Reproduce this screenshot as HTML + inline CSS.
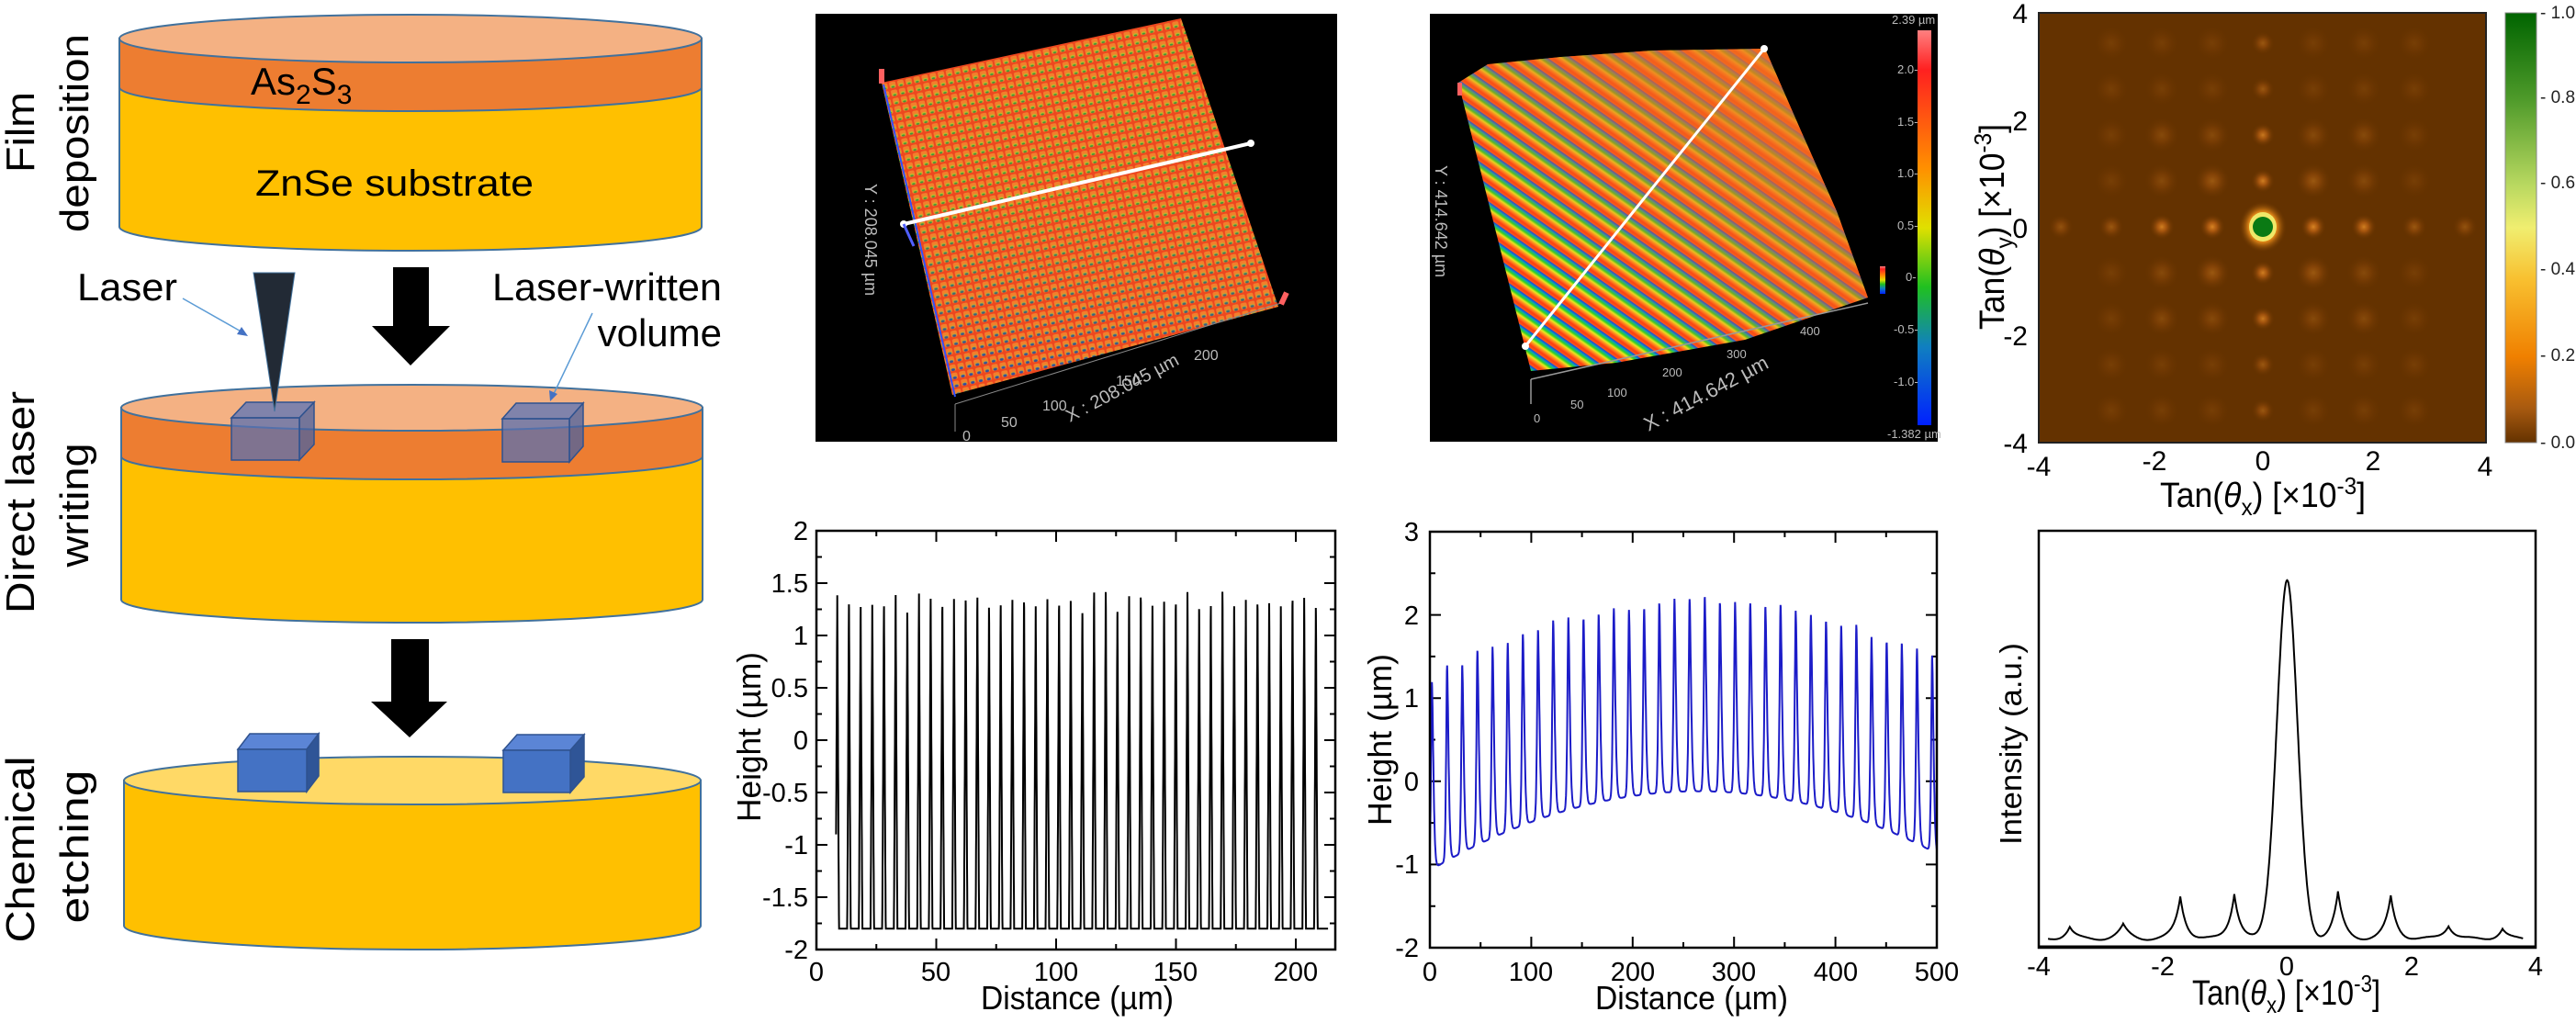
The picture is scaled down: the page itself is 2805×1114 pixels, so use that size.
<!DOCTYPE html>
<html><head><meta charset="utf-8"><style>
html,body{margin:0;padding:0;background:#fff;}
svg{display:block;font-family:"Liberation Sans",Arial,sans-serif;}
</style></head><body>
<svg id="s" width="2805" height="1114" viewBox="0 0 2805 1114" xmlns="http://www.w3.org/2000/svg">
<defs>
  <pattern id="dots" width="9" height="9" patternUnits="userSpaceOnUse" patternTransform="rotate(-12)">
    <rect width="9" height="9" fill="#f04a22"/>
    <rect x="1" y="1" width="7" height="7" rx="2" fill="#f58a30"/>
    <ellipse cx="4.5" cy="6" rx="2.6" ry="1.6" fill="#b8d030"/>
    <ellipse cx="4.5" cy="6.8" rx="1.8" ry="1" fill="#30a040"/>
  </pattern>
  <pattern id="bdots" width="9" height="9" patternUnits="userSpaceOnUse" patternTransform="rotate(-12)">
    <ellipse cx="4.5" cy="6.5" rx="2.2" ry="1.5" fill="#1030e0"/>
  </pattern>
  <linearGradient id="bmaskg" x1="0" y1="0" x2="0" y2="1">
    <stop offset="0.45" stop-color="#fff" stop-opacity="0"/>
    <stop offset="1" stop-color="#fff" stop-opacity="1"/>
  </linearGradient>
  <mask id="bmask"><rect x="880" y="0" width="580" height="490" fill="url(#bmaskg)"/></mask>
  <linearGradient id="stripeg" x1="0" y1="0" x2="0" y2="1">
    <stop offset="0" stop-color="#1838f0"/>
    <stop offset="0.18" stop-color="#10b0a0"/>
    <stop offset="0.3" stop-color="#30d020"/>
    <stop offset="0.45" stop-color="#e8e820"/>
    <stop offset="0.6" stop-color="#ff9020"/>
    <stop offset="0.8" stop-color="#ff3a10"/>
    <stop offset="1" stop-color="#f06020"/>
  </linearGradient>
  <pattern id="stripes" width="400" height="15" patternUnits="userSpaceOnUse" patternTransform="rotate(35)">
    <rect width="400" height="15" fill="url(#stripeg)"/>
  </pattern>
  <linearGradient id="ovg" x1="0" y1="1" x2="1" y2="0">
    <stop offset="0.25" stop-color="#f06a20" stop-opacity="0"/>
    <stop offset="0.7" stop-color="#f06a20" stop-opacity="0.7"/>
    <stop offset="1" stop-color="#f07a20" stop-opacity="0.85"/>
  </linearGradient>
  <linearGradient id="cb3d" x1="0" y1="0" x2="0" y2="1">
    <stop offset="0" stop-color="#ff8080"/>
    <stop offset="0.1" stop-color="#ff2020"/>
    <stop offset="0.35" stop-color="#ff9000"/>
    <stop offset="0.5" stop-color="#e0e000"/>
    <stop offset="0.65" stop-color="#20c020"/>
    <stop offset="0.8" stop-color="#1080c0"/>
    <stop offset="1" stop-color="#0020ff"/>
  </linearGradient>
  <linearGradient id="cbmap" x1="0" y1="0" x2="0" y2="1">
    <stop offset="0" stop-color="#006400"/>
    <stop offset="0.2" stop-color="#4e9a2a"/>
    <stop offset="0.4" stop-color="#b8d860"/>
    <stop offset="0.5" stop-color="#f0ee70"/>
    <stop offset="0.62" stop-color="#f8c030"/>
    <stop offset="0.8" stop-color="#f08000"/>
    <stop offset="0.92" stop-color="#a85a10"/>
    <stop offset="1" stop-color="#643200"/>
  </linearGradient>
  <radialGradient id="sp">
    <stop offset="0" stop-color="#ffa030" stop-opacity="1"/>
    <stop offset="0.35" stop-color="#d87018" stop-opacity="0.8"/>
    <stop offset="1" stop-color="#643200" stop-opacity="0"/>
  </radialGradient>
  <radialGradient id="cen">
    <stop offset="0" stop-color="#f8b020" stop-opacity="1"/>
    <stop offset="0.6" stop-color="#e88a18" stop-opacity="0.9"/>
    <stop offset="1" stop-color="#643200" stop-opacity="0"/>
  </radialGradient>
</defs>

<g stroke="#41719c" stroke-width="2">
  <path d="M130,42 L130,247 A317,26 0 0 0 764,247 L764,42 Z" fill="#ffc000"/>
  <path d="M130,42 L130,95 A317,26 0 0 0 764,95 L764,42 Z" fill="#ed7d31"/>
  <ellipse cx="447" cy="42" rx="317" ry="26" fill="#f4b183"/>
  <path d="M132,444 L132,653 A316.5,25 0 0 0 765,653 L765,444 Z" fill="#ffc000"/>
  <path d="M132,444 L132,497 A316.5,25 0 0 0 765,497 L765,444 Z" fill="#ed7d31"/>
  <ellipse cx="448.5" cy="444" rx="316.5" ry="25" fill="#f4b183"/>
  <path d="M135,850 L135,1008 A314,26 0 0 0 763,1008 L763,850 Z" fill="#ffc000"/>
  <ellipse cx="449" cy="850" rx="314" ry="26" fill="#ffd966"/>
</g>
<g stroke="#2f528f" stroke-width="1.5" fill-opacity="0.75">
  <path d="M252,455 L268,438 L342,438 L326,455 Z" fill="#5a74b8"/>
  <path d="M326,455 L342,438 L342,484 L326,501 Z" fill="#4a62a0"/>
  <rect x="252" y="455" width="74" height="46" fill="#5a70b0"/>
  <path d="M547,456 L562,439 L635,439 L620,456 Z" fill="#5a74b8"/>
  <path d="M620,456 L635,439 L635,486 L620,503 Z" fill="#4a62a0"/>
  <rect x="547" y="456" width="73" height="47" fill="#5a70b0"/>
</g>
<g stroke="#2f528f" stroke-width="1.5">
  <path d="M259,816 L272,799 L347,799 L334,816 Z" fill="#5b85d6"/>
  <path d="M334,816 L347,799 L347,845 L334,862 Z" fill="#2f5597"/>
  <rect x="259" y="816" width="75" height="46" fill="#4472c4"/>
  <path d="M548,817 L563,800 L636,800 L621,817 Z" fill="#5b85d6"/>
  <path d="M621,817 L636,800 L636,846 L621,863 Z" fill="#2f5597"/>
  <rect x="548" y="817" width="73" height="46" fill="#4472c4"/>
</g>
<path d="M276,297 L321,297 L299,448 Z" fill="#222a35" stroke="#41719c" stroke-width="1"/>
<path d="M428,291 L467,291 L467,355 L490,355 L447,398 L405,355 L428,355 Z" fill="#000"/>
<path d="M426,696 L467,696 L467,764 L487,764 L446,803 L404,764 L426,764 Z" fill="#000"/>
<line x1="199" y1="325" x2="266" y2="363" stroke="#5b9bd5" stroke-width="1.5"/>
<path d="M270,366 L258,364 L263,356 Z" fill="#4472c4"/>
<line x1="645" y1="341" x2="601" y2="433" stroke="#5b9bd5" stroke-width="1.5"/>
<path d="M599,437 L598,425 L607,429 Z" fill="#4472c4"/>
<g font-size="42" fill="#000">
  <text x="84" y="327" textLength="109" lengthAdjust="spacingAndGlyphs">Laser</text>
  <text x="536" y="327" textLength="250" lengthAdjust="spacingAndGlyphs">Laser-written</text>
  <text x="786" y="377" text-anchor="end">volume</text>
  <text x="273" y="103" font-size="42">As<tspan dy="10" font-size="30">2</tspan><tspan dy="-10">S</tspan><tspan dy="10" font-size="30">3</tspan></text>
  <text x="278" y="213" font-size="40" textLength="303" lengthAdjust="spacingAndGlyphs">ZnSe substrate</text>
</g>
<g font-size="44" fill="#000" text-anchor="middle">
  <text transform="translate(37,144) rotate(-90)" textLength="88" lengthAdjust="spacingAndGlyphs">Film</text>
  <text transform="translate(96,145) rotate(-90)" textLength="216" lengthAdjust="spacingAndGlyphs">deposition</text>
  <text transform="translate(37,547) rotate(-90)" textLength="242" lengthAdjust="spacingAndGlyphs">Direct laser</text>
  <text transform="translate(96,550) rotate(-90)" textLength="135" lengthAdjust="spacingAndGlyphs">writing</text>
  <text transform="translate(37,925) rotate(-90)" textLength="203" lengthAdjust="spacingAndGlyphs">Chemical</text>
  <text transform="translate(96,922) rotate(-90)" textLength="167" lengthAdjust="spacingAndGlyphs">etching</text>
</g>

<rect x="888" y="15" width="568" height="466" fill="#000"/>
<polygon points="960,90 1286,20 1392,334 1037,430" fill="url(#dots)"/>
<polygon points="960,90 1286,20 1392,334 1037,430" fill="url(#bdots)" mask="url(#bmask)"/>
<polygon points="960,90 1286,20 1392,334 1037,430" fill="#e03010" opacity="0.12"/>
<g stroke="#888" stroke-width="1" fill="none">
  <line x1="1040" y1="440" x2="1395" y2="330"/>
  <line x1="1040" y1="440" x2="1040" y2="470"/>
</g>
<line x1="962" y1="92" x2="1040" y2="432" stroke="#3050ff" stroke-width="2"/>
<line x1="984" y1="244" x2="1362" y2="156" stroke="#fff" stroke-width="4"/>
<circle cx="984" cy="244" r="4" fill="#fff"/><circle cx="1362" cy="156" r="4" fill="#fff"/>
<line x1="984" y1="244" x2="995" y2="268" stroke="#5060ff" stroke-width="3"/>
<rect x="1395" y="318" width="6" height="14" fill="#ff6060" transform="rotate(25 1398 325)"/>
<rect x="957" y="75" width="6" height="16" fill="#ff6060"/>
<g fill="#bbb" font-size="16">
  <text transform="translate(1165,460) rotate(-28)" font-size="20">X : 208.045 µm</text>
  <text transform="translate(942,200) rotate(90)" font-size="18">Y : 208.045 µm</text>
  <text x="1048" y="480">0</text><text x="1090" y="465">50</text><text x="1135" y="447">100</text>
  <text x="1215" y="420">150</text><text x="1300" y="392">200</text>
</g>

<rect x="1557" y="15" width="553" height="466" fill="#000"/>
<polygon points="1588,90 1620,70 1700,62 1800,55 1922,53 1960,140 2000,230 2034,324 1900,370 1760,395 1667,404" fill="url(#stripes)"/>
<polygon points="1588,90 1620,70 1700,62 1800,55 1922,53 1960,140 2000,230 2034,324 1900,370 1760,395 1667,404" fill="url(#ovg)"/>
<line x1="1667" y1="413" x2="2034" y2="330" stroke="#999" stroke-width="1.5"/>
<line x1="1667" y1="413" x2="1667" y2="440" stroke="#999" stroke-width="1.5"/>
<line x1="1661" y1="377" x2="1921" y2="53" stroke="#fff" stroke-width="3"/>
<circle cx="1661" cy="377" r="4" fill="#fff"/><circle cx="1921" cy="53" r="4" fill="#fff"/>
<rect x="1587" y="90" width="5" height="14" fill="#ff6060"/>
<rect x="2047" y="290" width="6" height="30" fill="url(#cb3d)"/>
<rect x="2088" y="33" width="15" height="430" fill="url(#cb3d)"/>
<g fill="#bbb" font-size="13">
  <text x="2060" y="26">2.39 µm</text>
  <text x="2066" y="80">2.0-</text><text x="2066" y="137">1.5-</text><text x="2066" y="193">1.0-</text>
  <text x="2066" y="250">0.5-</text><text x="2075" y="306">0-</text><text x="2062" y="363">-0.5-</text>
  <text x="2062" y="420">-1.0-</text><text x="2055" y="477">-1.382 µm</text>
  <text transform="translate(1795,470) rotate(-28)" font-size="22">X : 414.642 µm</text>
  <text transform="translate(1563,180) rotate(90)" font-size="18">Y : 414.642 µm</text>
  <text x="1670" y="460">0</text><text x="1710" y="445">50</text><text x="1750" y="432">100</text>
  <text x="1810" y="410">200</text><text x="1880" y="390">300</text><text x="1960" y="365">400</text>
</g>

<rect x="2220" y="14" width="487" height="468" fill="#643200"/>
<g id="spots"></g>
<ellipse cx="2464" cy="247" rx="26" ry="28" fill="url(#cen)"/>
<ellipse cx="2464" cy="247" rx="15" ry="16" fill="#f0e868"/>
<ellipse cx="2464" cy="247" rx="11" ry="11" fill="#0a7a14"/>
<rect x="2220" y="14" width="487" height="468" fill="none" stroke="#222" stroke-width="2"/>
<rect x="2728" y="14" width="34" height="468" fill="url(#cbmap)" stroke="#888" stroke-width="1"/>
<g font-size="19" fill="#222">
  <text x="2766" y="20">- 1.0</text><text x="2766" y="112">- 0.8</text><text x="2766" y="205">- 0.6</text>
  <text x="2766" y="299">- 0.4</text><text x="2766" y="393">- 0.2</text><text x="2766" y="488">- 0.0</text>
</g>
<g font-size="30" fill="#000">
  <g text-anchor="end">
    <text x="2208" y="25">4</text><text x="2208" y="142">2</text><text x="2208" y="259">0</text>
    <text x="2208" y="376">-2</text><text x="2208" y="493">-4</text>
  </g>
  <g text-anchor="middle">
    <text x="2220" y="518">-4</text><text x="2346" y="512">-2</text><text x="2464" y="512">0</text>
    <text x="2584" y="512">2</text><text x="2706" y="518">4</text>
  </g>
  <text x="2352" y="552" font-size="38" textLength="224" lengthAdjust="spacingAndGlyphs">Tan(<tspan font-style="italic">θ</tspan><tspan dy="9" font-size="26">x</tspan><tspan dy="-9">) [×10</tspan><tspan dy="-14" font-size="26">-3</tspan><tspan dy="14">]</tspan></text>
  <text transform="translate(2182,359) rotate(-90)" font-size="38" textLength="224" lengthAdjust="spacingAndGlyphs">Tan(<tspan font-style="italic">θ</tspan><tspan dy="9" font-size="26">y</tspan><tspan dy="-9">) [×10</tspan><tspan dy="-14" font-size="26">-3</tspan><tspan dy="14">]</tspan></text>
</g>

<g id="charts"></g>
<rect x="889" y="578" width="565" height="456" fill="none" stroke="#000" stroke-width="2.5"/>
<rect x="1557" y="579" width="552" height="453" fill="none" stroke="#000" stroke-width="2.5"/>
<rect x="2220" y="578" width="541" height="454" fill="none" stroke="#000" stroke-width="2.5"/>
<line x1="2220" y1="1031" x2="2761" y2="1031" stroke="#000" stroke-width="3"/>

<g font-size="29" fill="#000">
  <g text-anchor="end">
    <text x="880" y="588">2</text><text x="880" y="645">1.5</text><text x="880" y="702">1</text>
    <text x="880" y="759">0.5</text><text x="880" y="816">0</text><text x="880" y="873">-0.5</text>
    <text x="880" y="930">-1</text><text x="880" y="987">-1.5</text><text x="880" y="1044">-2</text>
    <text x="1545" y="589">3</text><text x="1545" y="680">2</text><text x="1545" y="770">1</text>
    <text x="1545" y="861">0</text><text x="1545" y="951">-1</text><text x="1545" y="1042">-2</text>
  </g>
  <g text-anchor="middle">
    <text x="889" y="1068">0</text><text x="1019" y="1068">50</text><text x="1150" y="1068">100</text>
    <text x="1280" y="1068">150</text><text x="1411" y="1068">200</text>
    <text x="1557" y="1068">0</text><text x="1667" y="1068">100</text><text x="1778" y="1068">200</text>
    <text x="1888" y="1068">300</text><text x="1999" y="1068">400</text><text x="2109" y="1068">500</text>
    <text x="2220" y="1062">-4</text><text x="2355" y="1062">-2</text><text x="2490" y="1062">0</text>
    <text x="2626" y="1062">2</text><text x="2761" y="1062">4</text>
  </g>
  <text x="1068" y="1099" font-size="36" textLength="210" lengthAdjust="spacingAndGlyphs">Distance (µm)</text>
  <text x="1737" y="1099" font-size="36" textLength="210" lengthAdjust="spacingAndGlyphs">Distance (µm)</text>
  <text transform="translate(828,895) rotate(-90)" font-size="36" textLength="185" lengthAdjust="spacingAndGlyphs">Height (µm)</text>
  <text transform="translate(1515,899) rotate(-90)" font-size="36" textLength="187" lengthAdjust="spacingAndGlyphs">Height (µm)</text>
  <text transform="translate(2201,920) rotate(-90)" font-size="33" textLength="220" lengthAdjust="spacingAndGlyphs">Intensity (a.u.)</text>
  <text x="2387" y="1094" font-size="38" textLength="205" lengthAdjust="spacingAndGlyphs">Tan(<tspan font-style="italic">θ</tspan><tspan dy="9" font-size="26">x</tspan><tspan dy="-9">) [×10</tspan><tspan dy="-14" font-size="26">-3</tspan><tspan dy="14">]</tspan></text>
</g>
</svg>
<script>
(function(){
var NS="http://www.w3.org/2000/svg";
function el(parent,tag,attrs){var e=document.createElementNS(NS,tag);for(var k in attrs)e.setAttribute(k,attrs[k]);parent.appendChild(e);return e;}
var charts=document.getElementById('charts');
var seed=7;function rnd(){seed=(seed*9301+49297)%233280;return seed/233280;}
var X1=function(x){return 889+x*2.61;},Y1=function(y){return 806-y*114;};
var d="",first=true;
var peaks=[];for(var k=0;k<42;k++){var xp=8.7+k*4.87;if(xp>212)break;peaks.push([xp,1.3+rnd()*0.17]);}
for(var x=8.2;x<=213.5;x+=0.05){
  var y=-1.8;
  for(var i=0;i<peaks.length;i++){var dx=Math.abs(x-peaks[i][0]);if(dx<0.75){var v=-1.8+(peaks[i][1]+1.8)*Math.pow(1-dx/0.75,1.15);if(v>y)y=v;}}
  d+=(first?"M":"L")+X1(x).toFixed(1)+","+Y1(y).toFixed(1);first=false;
}
el(charts,'path',{d:d,fill:'none',stroke:'#000','stroke-width':2});
var t="";
for(var v=-2;v<=2.001;v+=0.25){var yy=Y1(v),L=(Math.abs(v*2-Math.round(v*2))<0.01)?12:6;t+="M889,"+yy+"h"+L+"M1454,"+yy+"h-"+L;}
for(var v=0;v<=216;v+=25){var xx=X1(v),L=(v%50==0)?12:6;t+="M"+xx+",1034v-"+L+"M"+xx+",578v"+L;}
var X2=function(x){return 1557+x*1.104;},Y2=function(y){return 579+(3-y)*90.6;};
for(var v=-2;v<=3.001;v+=0.5){var yy=Y2(v),L=(Math.abs(v-Math.round(v))<0.01)?12:6;t+="M1557,"+yy+"h"+L+"M2109,"+yy+"h-"+L;}
for(var v=0;v<=500;v+=50){var xx=X2(v),L=(v%100==0)?12:6;t+="M"+xx+",1032v-"+L+"M"+xx+",579v"+L;}
el(charts,'path',{d:t,fill:'none',stroke:'#000','stroke-width':2});
function trough(x){var u=(x-265)/262;return -0.12-0.93*u*u;}
var p2=[];for(var k=0;k<40;k++){var xp=2+k*14.95;if(xp>499)break;p2.push([xp,2.3+(rnd()-0.5)*0.12]);}
d="";first=true;
for(var x=0;x<=500;x+=0.2){
  var y=trough(x);
  for(var i=0;i<p2.length;i++){var dx=x-p2[i][0];var w=dx<0?1.3:2.0;if(Math.abs(dx)<8){y+=p2[i][1]*Math.exp(-Math.pow(Math.abs(dx)/w,1.6));}}
  d+=(first?"M":"L")+X2(x).toFixed(1)+","+Y2(y).toFixed(1);first=false;
}
el(charts,'path',{d:d,fill:'none',stroke:'#1c1cc8','stroke-width':2});
var X3=function(x){return 2220+(x+4)*67.6;},Y3=function(v){return 1026-v*391;};
function cusp(x,c,h,w){return h*Math.exp(-Math.abs(x-c)/w);}
d="";first=true;
for(var x=-3.85;x<=3.8;x+=0.01){
  var v=Math.exp(-Math.pow(x/0.165,2)/2);
  v+=cusp(x,-0.85,0.13,0.1)+cusp(x,0.82,0.13,0.1)+cusp(x,-1.72,0.12,0.1)+cusp(x,1.67,0.12,0.1);
  v+=cusp(x,-2.64,0.04,0.12)+cusp(x,2.6,0.04,0.12)+cusp(x,-3.5,0.035,0.1)+cusp(x,3.47,0.03,0.1);
  v+=0.008+0.004*Math.sin(x*9);
  d+=(first?"M":"L")+X3(x).toFixed(1)+","+Y3(v).toFixed(1);first=false;
}
el(charts,'path',{d:d,fill:'none',stroke:'#000','stroke-width':2});
var sp=document.getElementById('spots');
var cx=2464,cy=247,sx=55,sy=50;
for(var i=-4;i<=4;i++)for(var j=-4;j<=4;j++){
  if(i==0&&j==0)continue;
  var a,r;
  if(j==0){var k=Math.abs(i);a=[0,0.75,0.7,0.35,0.3][k];r=14;}
  else if(i==0){var k=Math.abs(j);a=[0,0.7,0.65,0.35,0.35][k];r=13;}
  else{var m=Math.max(Math.abs(i),Math.abs(j));a=m==1?0.35:(m==2?0.22:0.12);r=20;}
  if(Math.abs(i)==4&&j!=0)continue;
  var px=cx+i*sx,py=cy-j*sy;
  if(px<2222||px>2705||py<16||py>480)continue;
  el(sp,'circle',{cx:px,cy:py,r:r,fill:'url(#sp)',opacity:a});
}
})();
</script>
</body></html>
